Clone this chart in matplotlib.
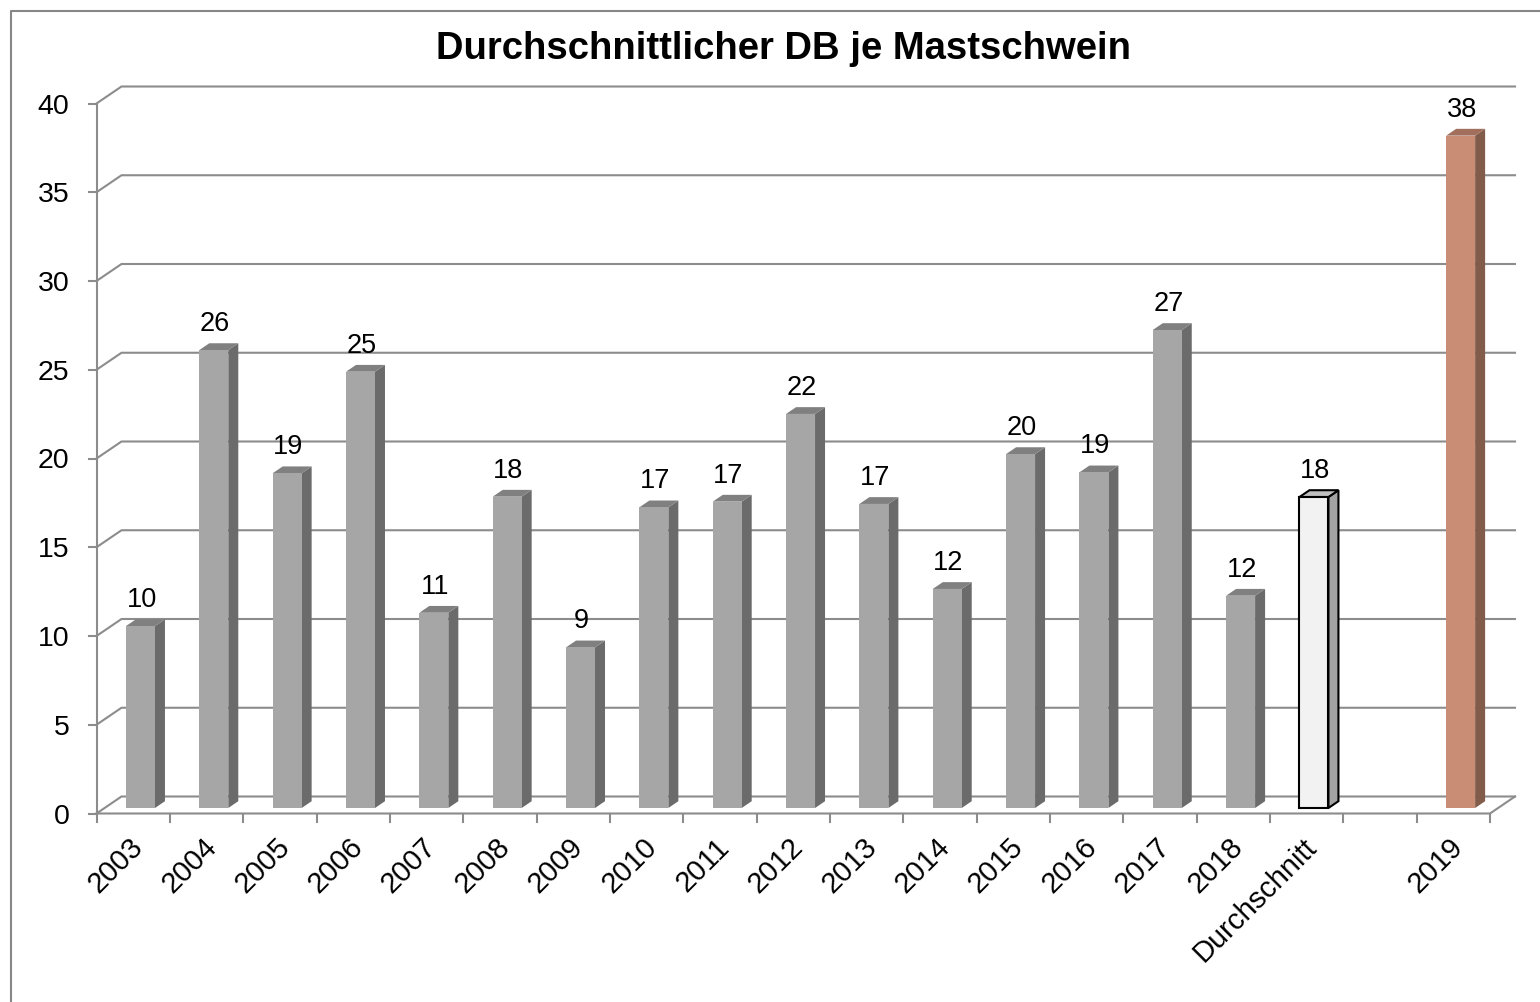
import numpy as np
import matplotlib
matplotlib.use("Agg")
import matplotlib.pyplot as plt
from matplotlib.patches import Polygon
from matplotlib.lines import Line2D

plt.rcParams['font.family'] = ['Liberation Sans', 'DejaVu Sans']

# ---- data ----
categories = ['2003', '2004', '2005', '2006', '2007', '2008', '2009', '2010',
              '2011', '2012', '2013', '2014', '2015', '2016', '2017', '2018',
              'Durchschnitt', '', '2019']
values = [10.25, 25.8, 18.86, 24.58, 11.0, 17.54, 9.05, 16.94,
          17.26, 22.2, 17.13, 12.34, 19.94, 18.91, 26.93, 11.96,
          17.52, np.nan, 37.88]
kinds = ['year'] * 16 + ['avg', 'none', 'current']
yticks = [0, 5, 10, 15, 20, 25, 30, 35, 40]
title = 'Durchschnittlicher DB je Mastschwein'

# ---- styles ----
styles = {
    'year':    dict(front='#a6a6a6', side='#6b6b6b', top='#808080', edge='none', lw=0),
    'avg':     dict(front='#f2f2f2', side='#a3a3a3', top='#c0c0c0', edge='black', lw=1.5),
    'current': dict(front='#c98c75', side='#825c4a', top='#a26f5d', edge='none', lw=0),
}
grid_col = '#8c8c8c'

W, H = 1540, 1002
fig = plt.figure(figsize=(W / 100, H / 100), dpi=100)
fig.patch.set_facecolor('white')

# back wall box in pixels
bx0, bx1 = 121.5, 1515.0
by0, by1 = 796.5, 86.5
ax = fig.add_axes([bx0 / W, (H - by0) / H, (bx1 - bx0) / W, (by0 - by1) / H])
n = len(categories)
ymax = 40
ax.set_xlim(0, n)
ax.set_ylim(0, ymax)
ax.axis('off')

pxx = (bx1 - bx0) / n        # pixels per category
pxy = (by0 - by1) / ymax     # pixels per unit

# depth offsets (data units)
FX, FY = -25 / pxx, -17 / pxy          # front plane
BXs, BYs = -17 / pxx, -11.5 / pxy      # bar front plane
bar_off, bar_w = 0.293, 0.395
DX, DY = 10 / pxx, 6.8 / pxy           # bar depth

# gridlines + walls
for v in yticks:
    ax.add_line(Line2D([FX, 0, n], [v + FY, v, v], color=grid_col, lw=1.5,
                       clip_on=False, zorder=1))
# front y axis
ax.add_line(Line2D([FX, FX], [FY, ymax + FY], color=grid_col, lw=1.5, clip_on=False, zorder=1))
for v in yticks:
    ax.add_line(Line2D([FX - 8 / pxx, FX], [v + FY, v + FY], color=grid_col, lw=1.5,
                       clip_on=False, zorder=1))
    ax.annotate(str(v), xy=(FX, v + FY), xytext=(-19.5, -7.2), textcoords='offset points',
                ha='right', va='baseline', fontsize=20.5, annotation_clip=False)
# floor front edge & right diagonal
ax.add_line(Line2D([FX, n + FX, n], [FY, FY, 0], color=grid_col, lw=1.5, clip_on=False, zorder=5))
for i in range(n + 1):
    ax.add_line(Line2D([i + FX, i + FX], [FY, FY - 8 / pxy], color=grid_col, lw=1.5,
                       clip_on=False, zorder=5))

# category labels
for i, c in enumerate(categories):
    if c:
        ax.annotate(c, xy=(i + 0.5 + FX, FY), xytext=(4, -21), textcoords='offset points',
                    ha='right', va='center', rotation=45, rotation_mode='anchor',
                    fontsize=21, annotation_clip=False)

# bars
for i, (v, k) in enumerate(zip(values, kinds)):
    if k == 'none' or np.isnan(v):
        continue
    st = styles[k]
    x0 = i + bar_off + BXs
    x1 = x0 + bar_w
    y0 = BYs
    y1 = v + BYs
    front = [(x0, y0), (x1, y0), (x1, y1), (x0, y1)]
    side = [(x1, y0), (x1 + DX, y0 + DY), (x1 + DX, y1 + DY), (x1, y1)]
    top = [(x0, y1), (x1, y1), (x1 + DX, y1 + DY), (x0 + DX, y1 + DY)]
    for poly, col in ((side, st['side']), (top, st['top']), (front, st['front'])):
        ax.add_patch(Polygon(poly, closed=True, facecolor=col, edgecolor=st['edge'],
                             lw=st['lw'], joinstyle='miter', clip_on=False, zorder=3))
    ax.annotate(f'{v:.0f}', xy=((x0 + x1) / 2, y1), xytext=(0.8, 13.7),
                textcoords='offset points', ha='center', va='baseline',
                fontsize=19.5, annotation_clip=False, zorder=6)

# title
fig.text(783 / W, 1 - 49 / H, title, ha='center', va='center',
         fontsize=27.5, fontweight='bold')

# outer frame (top and left edges)
fig.add_artist(Line2D([10.5 / W, 10.5 / W, 1.01], [-0.01, 1 - 10.5 / H, 1 - 10.5 / H],
                      transform=fig.transFigure, color='#878787', lw=1.5))

fig.savefig('out.png', dpi=100, facecolor='white')
